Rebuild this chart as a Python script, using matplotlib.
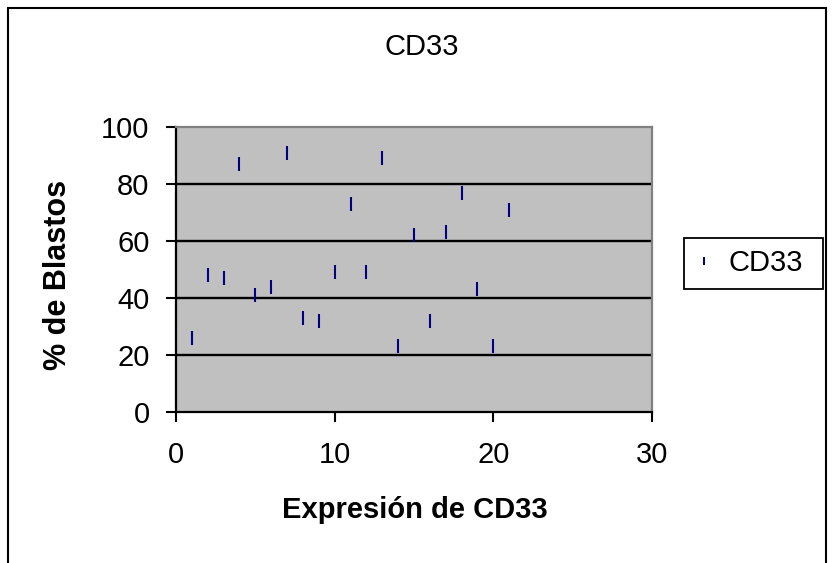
import matplotlib
matplotlib.use("Agg")
import matplotlib.pyplot as plt
from matplotlib.patches import Rectangle

plt.rcParams['font.family'] = ['Liberation Sans', 'DejaVu Sans']

x_vals = [1, 2, 3, 4, 5, 6, 7, 8, 9, 10, 11, 12, 13, 14, 15, 16, 17, 18, 19, 20, 21]
y_vals = [26, 48, 47, 87, 41, 44, 91, 33, 32, 49, 73, 49, 89, 23, 62, 32, 63, 77, 43, 23, 71]
series_name = "CD33"
title = "CD33"
x_label = "Expresión de CD33"
y_label = "% de Blastos"
x_ticks = [0, 10, 20, 30]
y_ticks = [0, 20, 40, 60, 80, 100]

W, H = 832, 563
FS = 21
fig = plt.figure(figsize=(W / 100, H / 100), dpi=100)
fig.patch.set_facecolor('white')

ax = fig.add_axes([176 / W, 1 - 412 / H, 476 / W, 285 / H])
ax.set_facecolor('#C0C0C0')
ax.set_xlim(0, 30)
ax.set_ylim(0, 100)
ax.set_xticks(x_ticks)
ax.set_yticks(y_ticks)
ax.tick_params(axis='both', direction='out', length=7, width=1.5, labelsize=FS, colors='black')
ax.tick_params(axis='x', pad=14)
ax.tick_params(axis='y', pad=12)

for yv in y_ticks[1:-1]:
    ax.axhline(yv, color='black', lw=1.7, zorder=1)

ax.spines['left'].set_color('black')
ax.spines['left'].set_linewidth(1.6)
ax.spines['bottom'].set_color('black')
ax.spines['bottom'].set_linewidth(1.6)
ax.spines['top'].set_color('#808080')
ax.spines['top'].set_linewidth(1.6)
ax.spines['right'].set_color('#808080')
ax.spines['right'].set_linewidth(1.6)

ax.plot(x_vals, y_vals, linestyle='none', marker='|', markersize=9.5,
        markeredgewidth=1.5, color='#000080', label=series_name, zorder=3)

fig.text(422 / W, 1 - 47 / H, title, ha='center', va='center', fontsize=FS)
fig.text(415 / W, 1 - 518 / H, x_label, ha='center', va='baseline', fontsize=FS, fontweight='bold')
fig.text(58 / W, 1 - 275 / H, y_label, ha='center', va='center', rotation=90,
         fontsize=FS + 1, fontweight='bold')

leg = ax.legend(loc='center left', bbox_to_anchor=(686 / W, 1 - 263 / H),
                bbox_transform=fig.transFigure, frameon=False,
                fontsize=FS, handlelength=0.6, handletextpad=0.55,
                borderpad=0.3, borderaxespad=0, markerscale=0.65)

leg_box = Rectangle((684 / W, 1 - 289 / H), 139 / W, 51 / H, transform=fig.transFigure,
                    fill=False, edgecolor='black', lw=1.3)
fig.patches.append(leg_box)

border = Rectangle((8 / W, -0.1), 818 / W, (555 / H) + 0.1, transform=fig.transFigure,
                   fill=False, edgecolor='black', lw=1.5, clip_on=False)
fig.patches.append(border)

fig.savefig('out.png', dpi=100)
